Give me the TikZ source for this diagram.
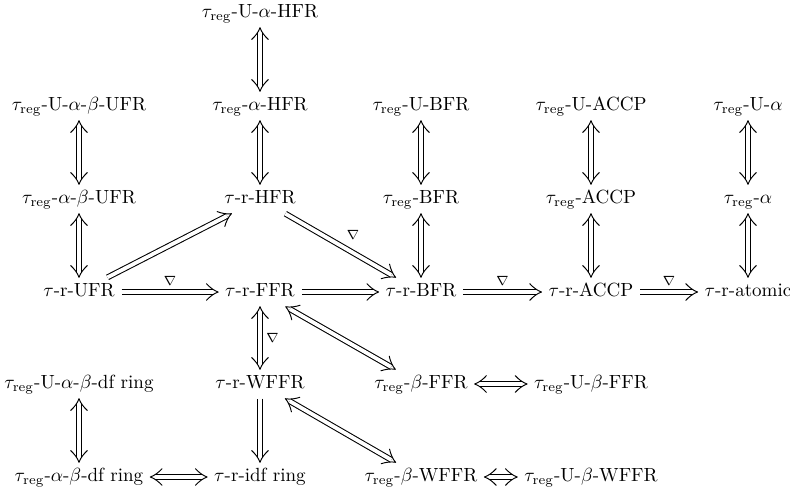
\documentclass[tikz,border=0pt]{standalone}
\usepackage{amsmath}
\usetikzlibrary{arrows.meta}
\pgfdeclarearrow{
  name = CMImp,
  setup code = {
    \pgfarrowssettipend{0pt}
    \pgfarrowssetlineend{-2.6pt}
    \pgfarrowssetbackend{-6.2pt}
    \pgfarrowssetvisualbackend{-6.2pt}
    \pgfarrowshullpoint{0pt}{0pt}
    \pgfarrowshullpoint{-6.2pt}{4.4pt}
    \pgfarrowshullpoint{-6.2pt}{-4.4pt}
  },
  drawing code = {
    \pgfsetdash{}{0pt}
    \pgfsetroundcap
    \pgfsetroundjoin
    \pgfsetlinewidth{0.5pt}
    \pgfpathmoveto{\pgfqpoint{-6.2pt}{4.4pt}}
    \pgfpathcurveto{\pgfqpoint{-4.6pt}{2.6pt}}{\pgfqpoint{-2.2pt}{0.7pt}}{\pgfqpoint{0pt}{0pt}}
    \pgfpathcurveto{\pgfqpoint{-2.2pt}{-0.7pt}}{\pgfqpoint{-4.6pt}{-2.6pt}}{\pgfqpoint{-6.2pt}{-4.4pt}}
    \pgfusepathqstroke
  }
}
\newcommand{\treg}{$\tau_{\mathrm{reg}}$}
\newcommand{\tr}{$\tau$-r}
\begin{document}
\begin{tikzpicture}[x=0.525pt,y=-0.525pt,
  cell/.style={inner xsep=3.5pt, inner ysep=2.5pt, text height=7.5pt, text depth=2.5pt, anchor=center},
  imp/.style={double, double distance=2.0pt, line width=0.55pt, -CMImp},
  iff/.style={double, double distance=2.0pt, line width=0.55pt, CMImp-CMImp},
  lab/.style={font=\scriptsize, inner sep=3pt}]
\useasboundingbox (0,0) rectangle (790,490);
% columns
\def\ca{79}\def\cb{260}\def\cc{421}\def\cd{591}\def\ce{748}
% rows (axis)
\def\ra{13}\def\rb{106}\def\rc{199}\def\rd{292}\def\re{384}\def\rf{477}
\node[cell] (uahfr) at (\cb,\ra) {\treg-U-$\alpha$-HFR};
\node[cell] (uabufr) at (\ca,\rb) {\treg-U-$\alpha$-$\beta$-UFR};
\node[cell] (ahfr) at (\cb,\rb) {\treg-$\alpha$-HFR};
\node[cell] (ubfr) at (\cc,\rb) {\treg-U-BFR};
\node[cell] (uaccp) at (\cd,\rb) {\treg-U-ACCP};
\node[cell] (ua) at (\ce,\rb) {\treg-U-$\alpha$};
\node[cell] (abufr) at (\ca,\rc) {\treg-$\alpha$-$\beta$-UFR};
\node[cell] (hfr) at (\cb,\rc) {\tr-HFR};
\node[cell] (bfrreg) at (\cc,\rc) {\treg-BFR};
\node[cell] (accpreg) at (\cd,\rc) {\treg-ACCP};
\node[cell] (areg) at (\ce,\rc) {\treg-$\alpha$};
\node[cell] (ufr) at (\ca,\rd) {\tr-UFR};
\node[cell] (ffr) at (\cb,\rd) {\tr-FFR};
\node[cell] (bfr) at (\cc,\rd) {\tr-BFR};
\node[cell] (accp) at (\cd,\rd) {\tr-ACCP};
\node[cell] (atomic) at (\ce,\rd) {\tr-atomic};
\node[cell] (uabdf) at (\ca,\re) {\treg-U-$\alpha$-$\beta$-df ring};
\node[cell] (wffr) at (\cb,\re) {\tr-WFFR};
\node[cell] (bffr) at (\cc,\re) {\treg-$\beta$-FFR};
\node[cell] (ubffr) at (\cd,\re) {\treg-U-$\beta$-FFR};
\node[cell] (abdf) at (\ca,\rf) {\treg-$\alpha$-$\beta$-df ring};
\node[cell] (idf) at (\cb,\rf) {\tr-idf ring};
\node[cell] (bwffr) at (\cc,\rf) {\treg-$\beta$-WFFR};
\node[cell] (ubwffr) at (\cd,\rf) {\treg-U-$\beta$-WFFR};
% vertical
\draw[iff] (uahfr) -- (ahfr);
\draw[iff] (ahfr) -- (hfr);
\draw[iff] (uabufr) -- (abufr);
\draw[iff] (abufr) -- (ufr);
\draw[iff] (ubfr) -- (bfrreg);
\draw[iff] (bfrreg) -- (bfr);
\draw[iff] (uaccp) -- (accpreg);
\draw[iff] (accpreg) -- (accp);
\draw[iff] (ua) -- (areg);
\draw[iff] (areg) -- (atomic);
\draw[iff] (ffr) -- node[lab, right] {$\nabla$} (wffr);
\draw[imp] (wffr) -- (idf);
\draw[iff] (uabdf) -- (abdf);
% horizontal
\draw[imp] (ufr) -- node[lab, above] {$\nabla$} (ffr);
\draw[imp] (ffr) -- (bfr);
\draw[imp] (bfr) -- node[lab, above] {$\nabla$} (accp);
\draw[imp] (accp) -- node[lab, above] {$\nabla$} (atomic);
\draw[iff] (bffr) -- (ubffr);
\draw[iff] (bwffr) -- (ubwffr);
\draw[iff] (abdf) -- (idf);
% diagonal
\draw[imp] (ufr) -- (hfr);
\draw[imp] (hfr) -- node[lab, above right] {$\nabla$} (bfr);
\draw[iff] (ffr) -- (bffr);
\draw[iff] (wffr) -- (bwffr);
\end{tikzpicture}
\end{document}
